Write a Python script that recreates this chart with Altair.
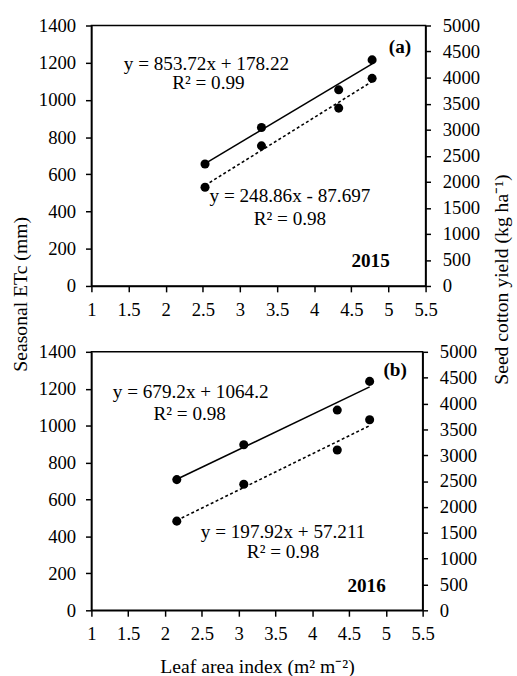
import altair as alt
import pandas as pd

FONT = "Liberation Serif"

# ---- data ----
lai_2015 = [2.53, 3.29, 4.33, 4.78]
etc_2015 = [531, 753, 956, 1116]
yield_2015 = [2340, 3043, 3765, 4340]

lai_2016 = [2.16, 3.07, 4.34, 4.78]
etc_2016 = [483, 683, 868, 1032]
yield_2016 = [2528, 3204, 3873, 4428]

x_ticks = [1, 1.5, 2, 2.5, 3, 3.5, 4, 4.5, 5, 5.5]
etc_ticks = [0, 200, 400, 600, 800, 1000, 1200, 1400]
yield_ticks = [0, 500, 1000, 1500, 2000, 2500, 3000, 3500, 4000, 4500, 5000]

eq_2015 = ["y = 853.72x + 178.22", "R² = 0.99", "y = 248.86x - 87.697", "R² = 0.98"]
eq_2016 = ["y = 679.2x + 1064.2", "R² = 0.98", "y = 197.92x + 57.211", "R² = 0.98"]

LEFT_TITLE = "Seasonal ETc (mm)"
RIGHT_TITLE = "Seed cotton yield (kg ha⁻¹)"
X_TITLE = "Leaf area index (m² m⁻²)"


def text_layer(txt, px, py, bold=False):
    return alt.Chart(pd.DataFrame({"t": [txt]})).mark_text(
        font=FONT, fontSize=19.5, fontWeight="bold" if bold else "normal",
        align="center", baseline="middle", color="black"
    ).encode(x=alt.value(px), y=alt.value(py), text="t:N")


def panel(lai, etc, yld, texts, width, height, show_x_title, show_y_titles):
    df = pd.DataFrame({"LAI": lai, "ETc": etc, "Yield": yld})
    base = alt.Chart(df)
    x_axis_kw = dict(values=x_ticks, format="~g", labelFlush=False, labelOverlap=False,
                     tickSize=6, labelPadding=9, titlePadding=13)
    if show_x_title:
        x_axis = alt.Axis(title=X_TITLE, **x_axis_kw)
    else:
        x_axis = alt.Axis(title=None, **x_axis_kw)
    xenc = alt.X("LAI:Q", scale=alt.Scale(domain=[1, 5.5], nice=False, zero=False), axis=x_axis)

    y_kw_l = dict(orient="left", values=etc_ticks, format="d", labelPadding=10, tickSize=6,
                  labelOverlap=False, labelFlush=False)
    y_kw_r = dict(orient="right", values=yield_ticks, format="d", labelPadding=12, tickSize=5,
                  labelOverlap=False, labelFlush=False)
    if show_y_titles:
        left_axis = alt.Axis(title=LEFT_TITLE, titleAngle=270, titleX=-72, titleY=273,
                             titleBaseline="middle", titleAlign="center", **y_kw_l)
        right_axis = alt.Axis(title=RIGHT_TITLE, titleAngle=270, titleX=77, titleY=258,
                              titleBaseline="middle", titleAlign="center", **y_kw_r)
    else:
        left_axis = alt.Axis(title=None, **y_kw_l)
        right_axis = alt.Axis(title=None, **y_kw_r)

    etc_y = alt.Y("ETc:Q", scale=alt.Scale(domain=[0, 1400], nice=False), axis=left_axis)
    yld_y = alt.Y("Yield:Q", scale=alt.Scale(domain=[0, 5000], nice=False), axis=right_axis)

    etc_line = base.transform_regression("LAI", "ETc").mark_line(
        color="black", strokeDash=[3, 2.5], strokeWidth=1.6).encode(x=xenc, y=etc_y)
    etc_pts = base.mark_circle(size=85, color="black", opacity=1).encode(x=xenc, y=etc_y)
    yld_line = base.transform_regression("LAI", "Yield").mark_line(
        color="black", strokeWidth=1.6).encode(x=xenc, y=yld_y)
    yld_pts = base.mark_circle(size=85, color="black", opacity=1).encode(x=xenc, y=yld_y)

    layers = [alt.layer(etc_line, etc_pts), alt.layer(yld_line, yld_pts)]
    layers += [text_layer(*t) for t in texts]
    return alt.layer(*layers).resolve_scale(y="independent").properties(width=width, height=height)


top = panel(
    lai_2015, etc_2015, yield_2015,
    [(eq_2015[0], 117, 39), (eq_2015[1], 119, 59), (eq_2015[2], 202, 174), (eq_2015[3], 202, 197),
     ("(a)", 314, 22, True), ("2015", 284, 240, True)],
    340, 265, False, True)

bottom = panel(
    lai_2016, etc_2016, yield_2016,
    [(eq_2016[0], 101, 41), (eq_2016[1], 100, 63), (eq_2016[2], 195, 183), (eq_2016[3], 195, 204),
     ("(b)", 309, 19, True), ("2016", 280, 238, True)],
    337, 263, True, False)

chart = alt.vconcat(top, bottom, spacing=67, bounds="flush").properties(
    padding={"left": 10, "top": 10, "right": 5, "bottom": 0}
).configure_view(
    stroke="black", strokeWidth=1.5
).configure_axis(
    domainColor="black", domainWidth=1.5, tickColor="black", tickWidth=1.5,
    labelFont=FONT, labelFontSize=19, labelColor="black",
    titleFont=FONT, titleFontSize=20, titleFontWeight="normal", titleColor="black",
    grid=False
)

chart.save("out.html", embed_options={"renderer": "svg", "actions": False})
